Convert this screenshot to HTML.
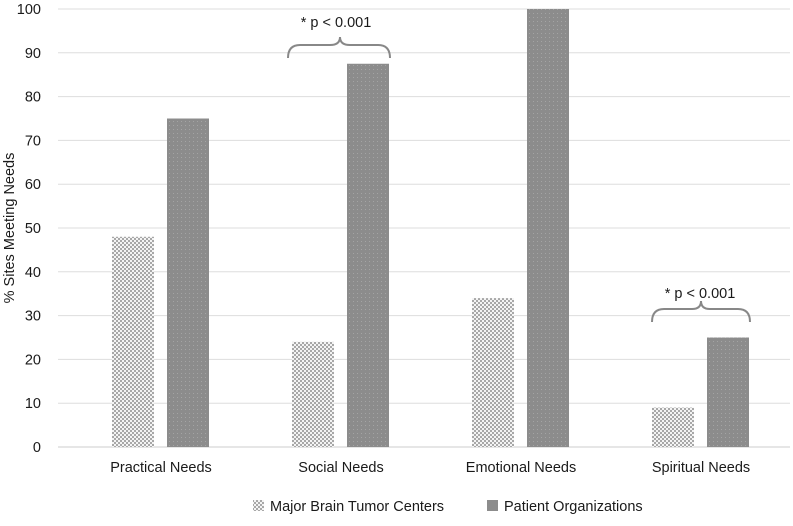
<!DOCTYPE html>
<html><head><meta charset="utf-8"><style>
body{margin:0;background:#fff;font-family:"Liberation Sans",sans-serif}
svg text{font-family:"Liberation Sans",sans-serif;fill:#1a1a1a}
</style></head><body>
<svg width="793" height="521">
<defs>
<pattern id="chk" width="4" height="4" patternUnits="userSpaceOnUse">
<rect width="4" height="4" fill="#f4f4f4"/><rect width="2" height="2" fill="#a8a8a8"/><rect x="2" y="2" width="2" height="2" fill="#a8a8a8"/>
</pattern>
<pattern id="dot" width="4" height="4" patternUnits="userSpaceOnUse">
<rect width="4" height="4" fill="#8c8c8c"/><rect x="1" y="1" width="1" height="1" fill="#a4a4a4"/>
</pattern>
</defs>
<g id="grid"></g><g id="bars"></g><g id="labels"></g>
<text x="14" y="228" transform="rotate(-90 14 228)" text-anchor="middle" font-size="14.5">% Sites Meeting Needs</text>
<path d="M288,58 Q288,45 300,45 L330,45 Q340,45 340,37 Q340,45 350,45 L378,45 Q390,45 390,58" fill="none" stroke="#888" stroke-width="2"/>
<text x="336" y="27" text-anchor="middle" font-size="14.5">* p &lt; 0.001</text>
<path d="M652,322 Q652,309 664,309 L692,309 Q701,309 701,301 Q701,309 710,309 L738,309 Q750,309 750,322" fill="none" stroke="#888" stroke-width="2"/>
<text x="700" y="298" text-anchor="middle" font-size="14.5">* p &lt; 0.001</text>
<rect x="253" y="500" width="11" height="11" fill="url(#chk)"/>
<text x="270" y="511" font-size="14.5">Major Brain Tumor Centers</text>
<rect x="487" y="500" width="11" height="11" fill="#8c8c8c"/>
<text x="504" y="511" font-size="14.5">Patient Organizations</text>
</svg>
<script>
const categories=["Practical Needs","Social Needs","Emotional Needs","Spiritual Needs"];
const centers=[48,24,34,9];
const organizations=[75,87.5,100,25];
const ticks=[0,10,20,30,40,50,60,70,80,90,100];
const ns="http://www.w3.org/2000/svg";
const y=v=>447-v*4.38;
const xc=i=>161+i*180;
function mk(t,a,p){const e=document.createElementNS(ns,t);for(const k in a)e.setAttribute(k,a[k]);p.appendChild(e);return e;}
const g=document.getElementById('grid'),b=document.getElementById('bars'),l=document.getElementById('labels');
ticks.forEach(t=>{
const ln=mk('line',{x1:58,x2:790,y1:y(t),y2:y(t),stroke:t===0?'#cccccc':'#dddddd','stroke-width':1},g);


const tx=mk('text',{x:41,y:y(t)+5,'text-anchor':'end','font-size':14.5},l);tx.textContent=t;


});
categories.forEach((c,i)=>{
const r1=mk('rect',{x:xc(i)-49,y:y(centers[i]),width:42,height:y(0)-y(centers[i]),fill:'url(#chk)'},b);


const r2=mk('rect',{x:xc(i)+6,y:y(organizations[i]),width:42,height:y(0)-y(organizations[i]),fill:'url(#dot)'},b);


const tx=mk('text',{x:xc(i),y:472,'text-anchor':'middle','font-size':14.5},l);tx.textContent=c;


});
</script>
</body></html>
